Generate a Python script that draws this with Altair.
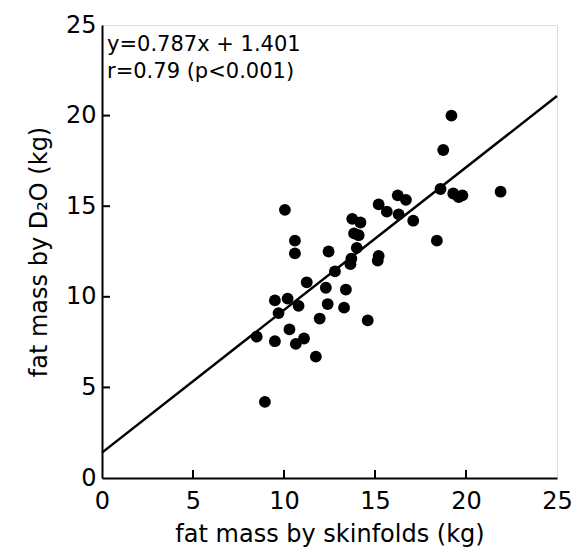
import altair as alt
import pandas as pd

# fat mass by skinfolds (kg)
x_vals = [8.95, 8.5, 9.5, 10.3, 10.65, 11.1, 11.75, 9.5, 10.2, 9.7, 10.8, 11.25,
          12.3, 13.4, 12.4, 13.3, 11.96, 14.6, 12.8, 10.05, 10.6, 10.6, 12.45,
          13.75, 14.2, 13.85, 14.1, 14.0, 13.7, 13.65, 15.2, 15.15, 15.2, 15.65,
          16.25, 16.7, 16.3, 17.1, 18.4, 18.6, 19.3, 19.6, 19.8, 21.9, 18.75, 19.2]
# fat mass by D2O (kg)
y_vals = [4.2, 7.8, 7.55, 8.2, 7.4, 7.7, 6.7, 9.8, 9.9, 9.1, 9.5, 10.8,
          10.5, 10.4, 9.6, 9.4, 8.8, 8.7, 11.4, 14.8, 13.1, 12.4, 12.5,
          14.3, 14.1, 13.5, 13.4, 12.7, 12.1, 11.8, 12.25, 12.0, 15.1, 14.7,
          15.6, 15.35, 14.55, 14.2, 13.1, 15.95, 15.7, 15.5, 15.6, 15.8, 18.1, 20.0]

slope = 0.787
intercept = 1.401
line_x = [0, 25]
tick_vals = [5, 10, 15, 20]
axis_vals = [0, 5, 10, 15, 20, 25]
annot = ["y=0.787x + 1.401", "r=0.79  (p<0.001)"]

FONT = "DejaVu Sans"
W, H = 455, 453

pts = pd.DataFrame({"x": x_vals, "y": y_vals})
ln = pd.DataFrame({"x": line_x, "y": [slope * v + intercept for v in line_x]})
ticks = pd.DataFrame({"v": tick_vals})
txt = pd.DataFrame({"t": ["\n".join(annot)]})

xs = alt.Scale(domain=[0, 25], nice=False, zero=False)
ys = alt.Scale(domain=[0, 25], nice=False, zero=False)

xax = alt.Axis(values=axis_vals, title="fat mass by skinfolds (kg)", ticks=False,
               grid=False, labelFontSize=24, titleFontSize=24, labelFont=FONT,
               titleFont=FONT, titleFontWeight="normal", labelColor="black",
               titleColor="black", domainColor="black", domainWidth=2,
               labelPadding=11, titlePadding=9, labelFlush=False)
yax = alt.Axis(values=axis_vals, title="fat mass by D₂O (kg)", ticks=False,
               grid=False, labelFontSize=24, titleFontSize=24, labelFont=FONT,
               titleFont=FONT, titleFontWeight="normal", labelColor="black",
               titleColor="black", domainColor="black", domainWidth=2,
               labelPadding=6, titlePadding=14, labelFlush=False)

points = alt.Chart(pts).mark_circle(size=140, color="black", opacity=1).encode(
    x=alt.X("x:Q", scale=xs, axis=xax),
    y=alt.Y("y:Q", scale=ys, axis=yax),
)

reg = alt.Chart(ln).mark_line(color="black", strokeWidth=2.5).encode(
    x=alt.X("x:Q", scale=xs),
    y=alt.Y("y:Q", scale=ys),
)

xticks = alt.Chart(ticks).mark_rule(color="black", strokeWidth=2).encode(
    x=alt.X("v:Q", scale=xs),
    y=alt.value(H),
    y2=alt.value(H - 8),
)
yticks = alt.Chart(ticks).mark_rule(color="black", strokeWidth=2).encode(
    y=alt.Y("v:Q", scale=ys),
    x=alt.value(0),
    x2=alt.value(8),
)

text = alt.Chart(txt).mark_text(align="left", baseline="middle", fontSize=21,
                                font=FONT, color="black", lineBreak="\n",
                                lineHeight=27).encode(
    x=alt.value(5),
    y=alt.value(20),
    text="t:N",
)

chart = alt.layer(points, reg, xticks, yticks, text).properties(
    width=W, height=H,
    autosize=alt.AutoSizeParams(type="none"),
    padding={"left": 94, "top": 17, "right": 15, "bottom": 70},
).configure_view(stroke="black", strokeWidth=2).configure(background="white")

chart.save("out.html", embed_options={"renderer": "svg", "actions": False})
